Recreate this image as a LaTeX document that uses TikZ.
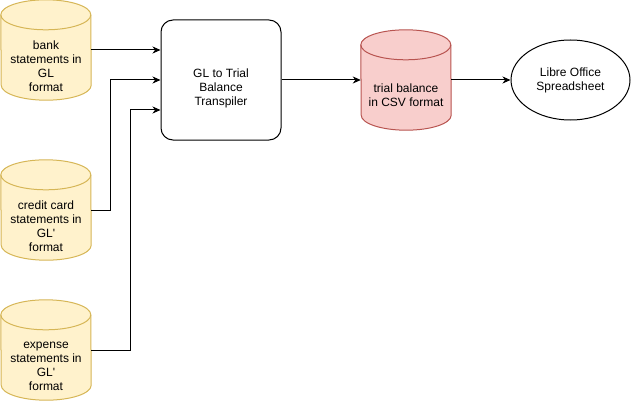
\documentclass[tikz,border=0pt]{standalone}
\usepackage{fontspec}
\setmainfont{Liberation Sans}
\usetikzlibrary{arrows.meta,calc,shapes.geometric}
\definecolor{yfill}{HTML}{FFF2CC}
\definecolor{ydraw}{HTML}{D6B656}
\definecolor{rfill}{HTML}{F8CECC}
\definecolor{rdraw}{HTML}{B85450}
\newcommand\drawcyl[3]{%
  \path[fill=#2,draw=#3,line width=1pt] ($(#1.north west)+(0,15)$)
    arc[start angle=180,end angle=0,x radius=45pt,y radius=15pt]
    -- ($(#1.south east)+(0,-15)$)
    arc[start angle=0,end angle=-180,x radius=45pt,y radius=15pt] -- cycle;
  \draw[#3,line width=1pt] ($(#1.north west)+(0,15)$)
    arc[start angle=180,end angle=360,x radius=45pt,y radius=15pt];
}
\tikzset{
  txt/.style={font=\fontsize{12}{14}\selectfont,align=center,text=black},
  cylbox/.style={rectangle,minimum width=90pt,minimum height=100pt,inner sep=0pt},
  arr/.style={line width=1pt,-{Stealth[length=8pt,width=7pt,inset=2.5pt]}},
}
\begin{document}
\begin{tikzpicture}[x=1pt,y=-1pt]
\useasboundingbox (0,0) rectangle (631,401);
% cylinder anchors
\node[cylbox] (c1) at (46,50) {};
\node[cylbox] (c2) at (46,210) {};
\node[cylbox] (c3) at (46,350) {};
\node[cylbox] (tb) at (406,80) {};
\drawcyl{c1}{yfill}{ydraw}
\drawcyl{c2}{yfill}{ydraw}
\drawcyl{c3}{yfill}{ydraw}
\drawcyl{tb}{rfill}{rdraw}
\node[txt,yshift=-16pt] (t1) at (c1) {bank\\statements in\\GL\\format};
\node[txt,yshift=-16pt] (t2) at (c2) {credit card\\statements in\\GL\textquotesingle\\format};
\node[txt,yshift=-16pt] (t3) at (c3) {expense\\statements in\\GL\textquotesingle\\format};
\node[txt,yshift=-15.5pt] (t4) at (tb) {trial balance\\in CSV format};
% transpiler box
\node[draw,line width=1pt,rounded corners=12pt,minimum width=120pt,minimum height=120pt,inner sep=0pt,
  label={[txt,yshift=-8pt]center:GL to Trial\\Balance\\Transpiler}] (box) at (221,80) {};
% spreadsheet ellipse
\node[draw,ellipse,line width=1pt,minimum width=119pt,minimum height=80pt,inner sep=0pt,txt] (ls) at (570.5,80) {Libre Office\\Spreadsheet};
% connectors
\draw[arr] (c1.east) -- (c1.east -| box.west);
\draw[arr] (c2.east) -- ++(19,0) |- (box.west);
\draw[arr] (c3.east) -- ++(39,0) |- ($(box.west)+(0,30)$);
\draw[arr] (box.east) -- (tb.west);
\draw[arr] (tb.east) -- (ls.west);
\end{tikzpicture}
\end{document}
